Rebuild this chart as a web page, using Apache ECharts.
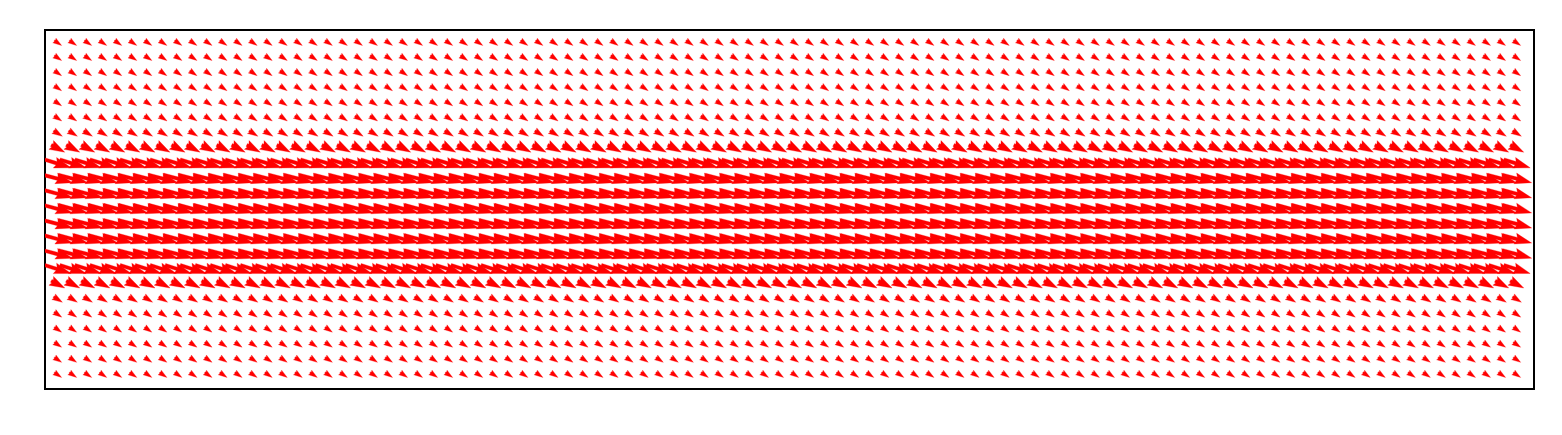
<!DOCTYPE html>
<html>
<head>
<meta charset="utf-8">
<script src="https://cdn.jsdelivr.net/npm/echarts@6/dist/echarts.min.js"></script>
<style>
html,body{margin:0;padding:0;background:#fff;}
#chart{width:1562px;height:435px;}
</style>
</head>
<body>
<div id="chart"></div>
<script>
// Grid column positions (x) and row positions (y, bottom = 0)
const xGrid = [0,1,2,3,4,5,6,7,8,9,10,11,12,13,14,15,16,17,18,19,20,21,22,23,24,25,26,27,28,29,30,31,32,33,34,35,36,37,38,39,40,41,42,43,44,45,46,47,48,49,50,51,52,53,54,55,56,57,58,59,60,61,62,63,64,65,66,67,68,69,70,71,72,73,74,75,76,77,78,79,80,81,82,83,84,85,86,87,88,89,90,91,92,93,94,95,96,97];
const yGrid = [22,21,20,19,18,17,16,15,14,13,12,11,10,9,8,7,6,5,4,3,2,1,0];
// Vector components per row (top row first); constant along x
const rowU = [0.48,0.48,0.48,0.48,0.48,0.50,0.58,0.90,1.75,1.95,1.95,1.95,1.95,1.95,1.95,1.75,0.90,0.58,0.50,0.48,0.48,0.48,0.48];
const rowV = [-0.33,-0.33,-0.33,-0.33,-0.33,-0.34,-0.37,-0.48,-0.55,-0.52,-0.52,-0.52,-0.52,-0.52,-0.52,-0.55,-0.48,-0.37,-0.34,-0.33,-0.33,-0.33,-0.33];

const data = [];
for (let r = 0; r < yGrid.length; r++) {
  for (let c = 0; c < xGrid.length; c++) {
    data.push([xGrid[c], yGrid[r], rowU[r], rowV[r]]);
  }
}

const SHAFT = 3.5, HEAD_LEN = 17, HEAD_AXIS = 15.3, HEAD_W = 11;

function renderItem(params, api) {
  const x = api.value(0), y = api.value(1), u = api.value(2), v = api.value(3);
  const T = api.coord([x - u / 2, y - v / 2]);
  const P = api.coord([x + u / 2, y + v / 2]);
  const dx = P[0] - T[0], dy = P[1] - T[1];
  const L = Math.sqrt(dx * dx + dy * dy);
  if (L < 1e-6) return null;
  const d = [dx / L, dy / L];
  const n = [-d[1], d[0]];
  let s = 1;
  if (L < HEAD_LEN) s = L / HEAD_LEN;
  const w = SHAFT * s / 2, hw = HEAD_W * s / 2, hl = HEAD_LEN * s, ha = HEAD_AXIS * s;
  const se = [P[0] - d[0] * ha, P[1] - d[1] * ha];
  const hb = [P[0] - d[0] * hl, P[1] - d[1] * hl];
  const pts = [
    [T[0] + n[0] * w, T[1] + n[1] * w],
    [se[0] + n[0] * w, se[1] + n[1] * w],
    [hb[0] + n[0] * hw, hb[1] + n[1] * hw],
    [P[0], P[1]],
    [hb[0] - n[0] * hw, hb[1] - n[1] * hw],
    [se[0] - n[0] * w, se[1] - n[1] * w],
    [T[0] - n[0] * w, T[1] - n[1] * w]
  ];
  return {
    type: 'polygon',
    shape: { points: pts },
    style: { fill: '#ff0000', stroke: '#ff0000', lineWidth: 0.3 }
  };
}

const chart = echarts.init(document.getElementById('chart'), null, { renderer: 'canvas' });
chart.setOption({
  animation: false,
  backgroundColor: '#ffffff',
  grid: { left: 45, top: 30, right: 28, bottom: 46, show: true, borderColor: '#000', borderWidth: 2, backgroundColor: 'transparent' },
  xAxis: { type: 'value', min: -0.864, max: 98.13, axisLine: { show: false }, axisTick: { show: false }, axisLabel: { show: false }, splitLine: { show: false } },
  yAxis: { type: 'value', min: -0.93, max: 22.86, axisLine: { show: false }, axisTick: { show: false }, axisLabel: { show: false }, splitLine: { show: false } },
  series: [{
    type: 'custom',
    renderItem: renderItem,
    clip: true,
    encode: { x: 0, y: 1 },
    data: data
  }]
});
</script>
</body>
</html>
